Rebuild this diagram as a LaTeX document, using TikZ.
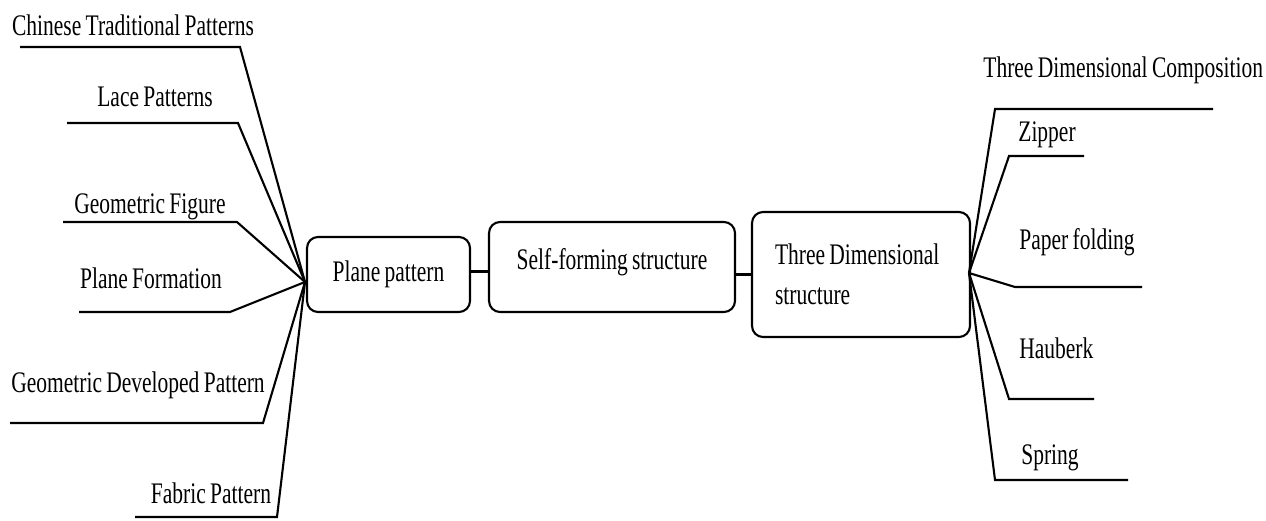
\documentclass[tikz,border=0pt]{standalone}
\usepackage{fontspec}
\setmainfont[FakeStretch=0.72,WordSpace=0.8]{Liberation Serif}
\usepackage{tikz}
\usetikzlibrary{positioning,calc}

\begin{document}
\begin{tikzpicture}[
    x=0.02cm,y=-0.02cm,
    box/.style={draw,line width=1.2pt,rounded corners=0.22cm,font=\fontsize{17}{20}\selectfont},
    lbl/.style={inner sep=0pt,font=\fontsize{17}{20}\selectfont},
    branch/.style={line width=1.2pt,line join=miter}
  ]
    \useasboundingbox (0,0) rectangle (1266,520);

    \node[box,minimum width=3.26cm,minimum height=1.5cm] (plane) at (388.5,274.5) {Plane pattern};
    \node[box,minimum width=4.92cm,minimum height=1.8cm,text depth=0.34cm] (self) at (612,267) {Self-forming structure};
    \node[box,text width=3.44cm,inner xsep=0.46cm,minimum height=2.5cm,align=flush left] (tds) at (861,274.5) {Three Dimensional\\[3pt]structure};

    \coordinate (lhub) at (305,282);
    \coordinate (rhub) at (969,273);

    \draw[branch] (plane.east) ++(0,-3) -- (self.west |- 0,271.5);
    \draw[branch] (self.east |- tds.west) -- (tds.west);

    \node[lbl] (chinese) at (133,25) {Chinese Traditional Patterns};
    \node[lbl] (lace) at (155,97) {Lace Patterns};
    \node[lbl] (figure) at (150,207) {Geometric Figure};
    \node[lbl] (formation) at (151,278) {Plane Formation};
    \node[lbl] (developed) at (138,385) {Geometric Developed Pattern};
    \node[lbl] (fabric) at (211,493) {Fabric Pattern};

    \coordinate (chinese-b) at (240,47);   \coordinate (chinese-e) at (20,47);
    \coordinate (lace-b) at (238,123);     \coordinate (lace-e) at (67,123);
    \coordinate (figure-b) at (237,222);   \coordinate (figure-e) at (63,222);
    \coordinate (formation-b) at (230,312); \coordinate (formation-e) at (79,312);
    \coordinate (developed-b) at (263,423); \coordinate (developed-e) at (10,423);
    \coordinate (fabric-b) at (277,517);   \coordinate (fabric-e) at (135,517);

    \draw[branch] (lhub) -- (chinese-b) -- (chinese-e);
    \draw[branch] (lhub) -- (lace-b) -- (lace-e);
    \draw[branch] (lhub) -- (figure-b) -- (figure-e);
    \draw[branch] (lhub) -- (formation-b) -- (formation-e);
    \draw[branch] (lhub) -- (developed-b) -- (developed-e);
    \draw[branch] (lhub) -- (fabric-b) -- (fabric-e);

    \node[lbl,anchor=west] (composition) at (983,70) {Three Dimensional Composition};
    \node[lbl,anchor=west] (zipper) at (1018,135) {Zipper};
    \node[lbl,anchor=west] (folding) at (1019,242) {Paper folding};
    \node[lbl,anchor=west] (hauberk) at (1019,348) {Hauberk};
    \node[lbl,anchor=west] (spring) at (1021,458) {Spring};

    \coordinate (composition-b) at (995,109); \coordinate (composition-e) at (1213,109);
    \coordinate (zipper-b) at (1009,156);     \coordinate (zipper-e) at (1084,156);
    \coordinate (folding-b) at (1015,287);    \coordinate (folding-e) at (1142,287);
    \coordinate (hauberk-b) at (1009,399);    \coordinate (hauberk-e) at (1094,399);
    \coordinate (spring-b) at (995,480);      \coordinate (spring-e) at (1128,480);

    \draw[branch] (rhub) -- (composition-b) -- (composition-e);
    \draw[branch] (rhub) -- (zipper-b) -- (zipper-e);
    \draw[branch] (rhub) -- (folding-b) -- (folding-e);
    \draw[branch] (rhub) -- (hauberk-b) -- (hauberk-e);
    \draw[branch] (rhub) -- (spring-b) -- (spring-e);
  \end{tikzpicture}
\end{document}
